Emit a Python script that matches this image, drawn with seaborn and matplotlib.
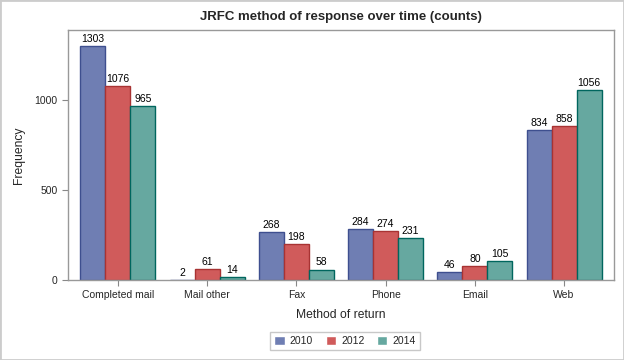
import pandas as pd
import seaborn as sns
import matplotlib.pyplot as plt

# Data
methods = ["Completed mail", "Mail other", "Fax", "Phone", "Email", "Web"]
years = ["2010", "2012", "2014"]
counts_2010 = [1303, 2, 268, 284, 46, 834]
counts_2012 = [1076, 61, 198, 274, 80, 858]
counts_2014 = [965, 14, 58, 231, 105, 1056]

df = pd.DataFrame({
    "Method": methods * 3,
    "Year": [y for y in years for _ in methods],
    "Count": counts_2010 + counts_2012 + counts_2014,
})

fill_colors = ["#6F7EB3", "#D05B5B", "#66A8A0"]
edge_colors = ["#3E4F8F", "#A83333", "#00665E"]

sns.set_style("white")
plt.rcParams["font.family"] = ["Liberation Sans", "DejaVu Sans"]

fig = plt.figure(figsize=(6.24, 3.6), dpi=100)
ax = fig.add_axes([68 / 624, 1 - 280 / 360, 546 / 624, 250 / 360])

sns.barplot(data=df, x="Method", y="Count", hue="Year", order=methods,
            hue_order=years, palette=fill_colors, saturation=1, width=0.84,
            ax=ax, legend=True)

for cont, ec in zip(ax.containers, edge_colors):
    for bar in cont:
        bar.set_edgecolor(ec)
        bar.set_linewidth(1.0)
    ax.bar_label(cont, padding=1.5, fontsize=7.5, color="black")

ax.set_xlim(-0.56, 5.56)
ax.set_ylim(0, 1390)
ax.set_yticks([0, 500, 1000])
ax.set_xlabel("Method of return", fontsize=8.7, labelpad=6)
ax.set_ylabel("Frequency", fontsize=8.7, labelpad=6.5)
ax.set_title("JRFC method of response over time (counts)", fontsize=9.5,
             fontweight="bold", pad=7)
ax.tick_params(axis="both", labelsize=7.5, length=4, color="#888888",
               direction="out", bottom=True, left=True)
for s in ax.spines.values():
    s.set_color("#999999")
    s.set_linewidth(1.0)

handles, labels = ax.get_legend_handles_labels()
ax.get_legend().remove()
leg = fig.legend(handles, labels, loc="center", bbox_to_anchor=(345 / 624, 1 - 341 / 360),
                 ncol=3, fontsize=7.5, frameon=True, fancybox=False,
                 handlelength=1.0, handleheight=1.0, columnspacing=1.2,
                 handletextpad=0.5, borderpad=0.4)
leg.get_frame().set_edgecolor("#BBBBBB")
leg.get_frame().set_linewidth(1.0)

# light border around the figure
fig.patches.append(plt.Rectangle((0, 0), 1, 1, transform=fig.transFigure,
                                 fill=False, edgecolor="#CCCCCC", linewidth=2))

fig.savefig("out.png", dpi=100)
